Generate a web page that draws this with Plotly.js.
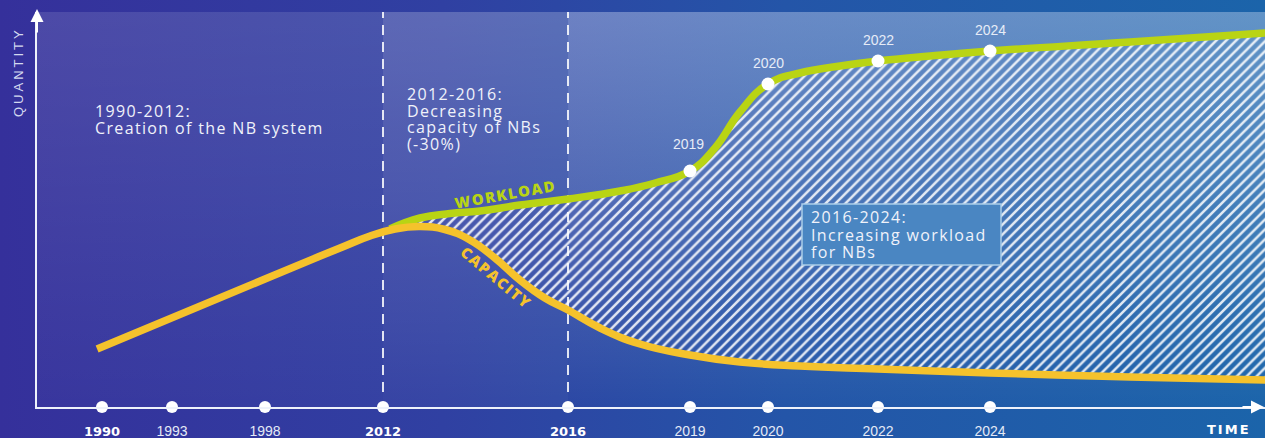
<!DOCTYPE html>
<html><head><meta charset="utf-8">
<script src="https://cdn.plot.ly/plotly-3.0.1.min.js"></script>
<style>
html,body{margin:0;padding:0;}
body{width:1265px;height:438px;overflow:hidden;
 background:linear-gradient(90deg,#35309b 0%,#3040a2 35%,#2455a8 62%,#1b64aa 100%);}
#chart{width:1265px;height:438px;}
</style></head><body><div id="chart"></div>
<script>
// ---- schematic (non-linear) time axis ----
const tickYears = [1990, 1993, 1998, 2012, 2016, 2019, 2020, 2022, 2024];
const tickPos   = [0, 70, 163, 281, 466, 588, 666, 776, 888];
const boldYears = [1990, 2012, 2016];

// ---- series (quantity index) ----
const capacityYears  = [1989.79, 1998, 2006.9, 2010.46, 2012.26, 2012.8, 2013.34, 2013.88, 2014.42, 2014.96, 2015.5, 2016, 2016.79, 2017.77, 2019, 2019.64, 2020.58, 2022, 2024, 2026.5, 2028.91, 2029.36];
const capacityValues = [58, 128, 159, 171, 178, 180.5, 177.5, 167, 149, 127, 109, 97, 79, 63, 52, 45, 41, 38, 34, 30, 27, 26];

const workloadYears  = [2012.15, 2012.8, 2013.45, 2014.1, 2014.96, 2016, 2017.28, 2018.14, 2019, 2019.32, 2019.64, 2020, 2020.58, 2021.31, 2022, 2022.93, 2024, 2026.5, 2028.91, 2029.36];
const workloadValues = [178, 189, 193.5, 196, 202, 208, 216, 224, 236, 259, 295, 323, 334, 341, 346, 351, 356, 365, 374, 375.5];

const markedYears = [2019, 2020, 2022, 2024];
const phaseYears  = [2012, 2016];

const block1Lines = ['1990-2012:', 'Creation of the NB system'];
const block2Lines = ['2012-2016:', 'Decreasing', 'capacity of NBs', '(-30%)'];
const block3Lines = ['2016-2024:', 'Increasing workload', 'for NBs'];

// ---- helpers ----
function toPos(yr){
  let i = 0;
  if (yr >= tickYears[tickYears.length-1]) i = tickYears.length-2;
  else if (yr > tickYears[0]) { while (yr > tickYears[i+1]) i++; }
  const t = (yr - tickYears[i]) / (tickYears[i+1] - tickYears[i]);
  return tickPos[i] + t * (tickPos[i+1] - tickPos[i]);
}
const X_MIN = -65, X_MAX = 1163, Y_MAX = 395;
const capX = capacityYears.map(toPos);
const wlX  = workloadYears.map(toPos);

const capStart = capacityYears.findIndex(y => y >= 2012.8);
const fillX = wlX.concat(capX.slice(capStart).reverse());
const fillY = workloadValues.concat(capacityValues.slice(capStart).reverse());

const p2012 = toPos(phaseYears[0]), p2016 = toPos(phaseYears[1]);

function region(x0, x1, bottom, top){
  return {x:[x0,x1,x1,x0,x0], y:[0,0,Y_MAX,Y_MAX,0], mode:'lines', line:{width:0},
    fill:'toself', fillcolor:top, fillgradient:{type:'vertical', start:0, stop:Y_MAX,
    colorscale:[[0,bottom],[1,top]]}, hoverinfo:'skip', showlegend:false};
}

const traces = [
  region(X_MIN, p2012, 'rgba(255,255,255,0.02)', 'rgba(255,255,255,0.12)'),
  region(p2012, p2016, 'rgba(255,255,255,0.03)', 'rgba(255,255,255,0.22)'),
  region(p2016, X_MAX, 'rgba(255,255,255,0.0)', 'rgba(225,232,250,0.36)'),
];
phaseYears.forEach(y => traces.push({x:[toPos(y),toPos(y)], y:[15,Y_MAX], mode:'lines',
  line:{color:'rgba(255,255,255,0.85)', width:2, dash:'10px,7px'}, hoverinfo:'skip', showlegend:false}));

traces.push({x:fillX, y:fillY, mode:'lines', line:{width:0, shape:'spline', smoothing:1.3}, fill:'toself',
  fillcolor:'rgba(0,0,0,0)',
  fillpattern:{shape:'/', size:7, solidity:0.36, fgcolor:'#ffffff', fgopacity:0.85, bgcolor:'rgba(0,0,0,0)'},
  hoverinfo:'skip', showlegend:false});

traces.push({x:wlX, y:workloadValues, mode:'lines', name:'Workload',
  line:{color:'#b9d414', width:7.5, shape:'spline', smoothing:1.3}, showlegend:false});
traces.push({x:capX, y:capacityValues, mode:'lines', name:'Capacity',
  line:{color:'#f5c22c', width:7.5, shape:'spline', smoothing:1.3}, showlegend:false});

const markX = markedYears.map(toPos);
const markY = markedYears.map(y => workloadValues[workloadYears.indexOf(y)]);
traces.push({x:markX, y:markY, mode:'markers', marker:{color:'#ffffff', size:13}, showlegend:false, hoverinfo:'skip'});
traces.push({x:tickPos, y:tickPos.map(()=>0), mode:'markers', marker:{color:'#ffffff', size:12},
  cliponaxis:false, showlegend:false, hoverinfo:'skip'});

const ticktext = tickYears.map(y => boldYears.includes(y)
  ? '<span style="font-family:DejaVu Sans;font-weight:bold;font-size:13px;fill:#ffffff">' + y + '</span>'
  : String(y));

const ls = (s, v) => '<span style="letter-spacing:' + v + 'px">' + s + '</span>';
const block = arr => arr.map(t => '<span style="font-size:16px;letter-spacing:1.35px">' + t + '</span>').join('<br>');
const annotations = [];
function addBlock(arr, x, y, pitch){
  annotations.push({x:x, y:y, xref:'x', yref:'y', text:block(arr), align:'left',
    showarrow:false, xanchor:'left', yanchor:'middle',
    font:{family:'Open Sans', size:pitch/1.3, color:'#f0f2fa', weight:500}});
}
addBlock(block1Lines, -9, 287.5, 17);
addBlock(block2Lines, 303, 288, 16.7);
addBlock(block3Lines, 707, 172.5, 17.5);

annotations.push({x:403, y:213, xref:'x', yref:'y', text:ls('WORKLOAD',1.5), textangle:-10, showarrow:false,
  xanchor:'center', yanchor:'middle', font:{family:'Open Sans', size:15, color:'#b9d414', weight:800}});
annotations.push({x:394, y:130, xref:'x', yref:'y', text:ls('CAPACITY',1.5), textangle:40, showarrow:false,
  xanchor:'center', yanchor:'middle', font:{family:'Open Sans', size:15, color:'#f5c22c', weight:800}});

markedYears.forEach((y,i) => annotations.push({x:markX[i], y:markY[i], xref:'x', yref:'y', text:String(y),
  showarrow:false, yshift: y===2019 ? 27 : 21, xshift: y===2019 ? -2 : 0, xanchor:'center', yanchor:'middle',
  font:{family:'Liberation Sans', size:14, color:'#e6ecf7'}}));

annotations.push({x:-0.0155, y:0.848, xref:'paper', yref:'paper', text:ls('QUANTITY',3), textangle:-90,
  xanchor:'center', yanchor:'middle',
  showarrow:false, font:{family:'Liberation Sans', size:13, color:'#d4d9f0'}});
annotations.push({x:0.9707, y:-0.058, xref:'paper', yref:'paper', text:ls('TIME',2),
  xanchor:'center', yanchor:'middle',
  showarrow:false, font:{family:'DejaVu Sans', size:13, color:'#ffffff', weight:'bold'}});
// axis arrowheads
annotations.push({x:0, y:1.0076, xref:'paper', yref:'paper', ax:0, ay:25, text:'', showarrow:true,
  arrowhead:2, arrowsize:1.3, arrowwidth:2, arrowcolor:'#ffffff'});
annotations.push({x:1.0008, y:0, xref:'paper', yref:'paper', ax:-25, ay:0, text:'', showarrow:true,
  arrowhead:2, arrowsize:1.3, arrowwidth:2, arrowcolor:'#ffffff'});

const layout = {
  width:1265, height:438, margin:{l:37, r:0, t:12, b:31},
  paper_bgcolor:'rgba(0,0,0,0)', plot_bgcolor:'rgba(0,0,0,0)', showlegend:false,
  xaxis:{range:[X_MIN, X_MAX], showgrid:false, zeroline:false, showline:true, linecolor:'#eef2fb', linewidth:2,
    tickvals:tickPos, ticktext:ticktext, ticks:'', ticklabelstandoff:10,
    tickfont:{family:'Liberation Sans', size:14, color:'#e4eaf6'}, fixedrange:true},
  yaxis:{range:[0, Y_MAX], showgrid:false, zeroline:false, showline:true, linecolor:'#eef2fb', linewidth:2,
    showticklabels:false, ticks:'', fixedrange:true},
  shapes:[{type:'rect', xref:'x', yref:'y', x0:700, x1:899, y0:142, y1:203, layer:'above',
    fillcolor:'#4a86c2', line:{color:'#a9cde9', width:1.5}}],
  annotations:annotations
};
Plotly.newPlot('chart', traces, layout, {displayModeBar:false, staticPlot:true});
</script></body></html>
